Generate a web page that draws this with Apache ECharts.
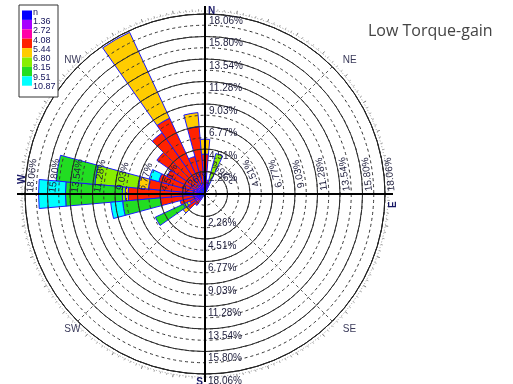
<!DOCTYPE html>
<html><head><meta charset="utf-8">
<script src="https://cdn.jsdelivr.net/npm/echarts@6/dist/echarts.min.js"></script>
<style>html,body{margin:0;padding:0;background:#fff}#c{width:513px;height:384px}</style>
</head><body><div id="c"></div>
<script>
// ---- data ----
const directions = ['0','10','20','30','40','50','60','70','80','90','100','110','120','130','140','150','160','170','180','190','200','210','220','230','240','250','260','270','280','290','300','310','320','330','340','350'];
const binLabels = ['n','1.36','2.72','4.08','5.44','6.80','8.15','9.51','10.87'];
const binColors = ['#0000ff','#a800ff','#ff00a8','#ff2200','#ffcc00','#88ee00','#22dd22','#00ffff'];
const ringLabels = ['2.26%','4.51%','6.77%','9.03%','11.28%','13.54%','15.80%','18.06%'];
const ringMax = 18.06;
// percent per direction for each speed bin (index = direction/10)
const bin1 = [0.4,0.4,0.3,0,0,0,0,0,0,0,0,0,0,0,0,0,0,0,0,0,0,0,0.3,0.4,0.4,0.4,0.4,0.4,0.4,0.4,0.3,0.3,0.3,0.3,0.3,0.3];
const bin2 = [0.5,0.6,0.3,0,0,0,0,0,0,0,0,0,0,0,0,0,0,0,0,0,0,0,0.3,0.4,0.4,0.4,0.4,0.4,0.4,0.4,0.3,0.3,0.3,0.3,0.3,0.3];
const bin3 = [0.6,0.4,0.2,0,0,0,0,0,0,0,0,0,0,0,0,0,0,0,0,0,0,0,0.2,0.3,0.3,0.3,0.4,0.4,0.4,0.4,0.3,0.3,0.4,0.4,0.3,0.4];
const bin4 = [2.5,0,0.2,0,0,0,0,0,0,0,0,0,0,0,0,0,0,0,0,0,0,0,0.6,1.0,0.6,1.5,3.3,6.5,4.5,3.6,3.3,5.0,6.5,7.4,3.0,5.8];
const bin5 = [1.5,0,0.2,0,0,0,0,0,0,0,0,0,0,0,0,0,0,0,0,0,0,0,0,0.6,0.3,0,0,0.3,1.0,0,0,0,0,9.5,0,1.4];
const bin6 = [0,0,3.0,0,0,0,0,0,0,0,0,0,0,0,0,0,0,0,0,0,0,0,0,0,0.4,0,0,0.3,4.4,0,0,0,0,0,0,0];
const bin7 = [0,0,0,0,0,0,0,0,0,0,0,0,0,0,0,0,0,0,0,0,0,0,0,0,3.1,0,3.8,5.7,3.9,0,0,0,0,0,0,0];
const bin8 = [0,0,0,0,0,0,0,0,0,0,0,0,0,0,0,0,0,0,0,0,0,0,0,0,0,0,1.2,2.7,0,1.0,0,0,0,0,0,0];
const bins = [bin1,bin2,bin3,bin4,bin5,bin6,bin7,bin8];

const CX = 205, CY = 194, R = 180;
const chart = echarts.init(document.getElementById('c'), null, {renderer:'canvas'});
const hid = {axisLine:{show:false},axisTick:{show:false},axisLabel:{show:false},splitLine:{show:false}};

const series = bins.map((b,i)=>({
  type:'bar', coordinateSystem:'polar', polarIndex:0, stack:'rose', name:binLabels[i+1],
  data:b.map(v=>v>0?v:null), barCategoryGap:'0%',
  itemStyle:{color:binColors[i], borderColor:'#1a1aff', borderWidth:1}, z:2, silent:true
}));

const g = [];
const scale = R/ringMax;
const font = '10px "Liberation Sans", Arial, sans-serif';
const txtCol = '#1e1e3c';
ringLabels.forEach((t,k)=>{
  const r = (ringMax/ringLabels.length)*(k+1)*scale;
  g.push({type:'text', x:CX+4, y:CY-r+2, style:{text:t, font, fill:txtCol, textAlign:'left', textVerticalAlign:'top'}, z:20});
  g.push({type:'text', x:CX+3, y:CY+r+2, style:{text:t, font, fill:txtCol, textAlign:'left', textVerticalAlign:'top'}, z:20});
  const s = 4 + 15;
  [[0,-1,1],[Math.PI,1,-1]].forEach(([th0,sgn,outward])=>{
    const th = th0 + sgn*s/r;
    const rx = sgn*(-Math.sin(th)), ry = sgn*Math.cos(th);
    const dx = outward*Math.cos(th), dy = outward*Math.sin(th);
    const px = CX + r*Math.cos(th) + dx*6, py = CY + r*Math.sin(th) + dy*6;
    g.push({type:'text', x:px, y:py, rotation:Math.atan2(-ry,rx),
      style:{text:t, font, fill:txtCol, textAlign:'center', textVerticalAlign:'middle'}, z:20});
  });
});
const cfont = 'bold 10px "Liberation Sans", Arial, sans-serif';
const ccol = '#1a1a66';
g.push({type:'text', x:CX+3, y:CY-R-8, style:{text:'N', font:cfont, fill:ccol, textAlign:'left', textVerticalAlign:'top'}, z:20});
g.push({type:'text', x:CX-2, y:CY+R+3, style:{text:'S', font:cfont, fill:ccol, textAlign:'right', textVerticalAlign:'top'}, z:20});
g.push({type:'text', x:CX+R+3, y:CY+14, rotation:Math.PI/2, style:{text:'E', font:cfont, fill:ccol, textAlign:'left', textVerticalAlign:'top'}, z:20});
g.push({type:'text', x:CX-R-8, y:CY-10, rotation:Math.PI/2, style:{text:'W', font:cfont, fill:ccol, textAlign:'left', textVerticalAlign:'top'}, z:20});
const ifont = '10px "Liberation Sans", Arial, sans-serif';
const icol = '#3a3a5a';
const d = 192*Math.SQRT1_2;
[['NE',1,-1,2],['SE',1,1,-1],['SW',-1,1,-1],['NW',-1,-1,2]].forEach(([t,sx,sy,oy])=>{
  g.push({type:'text', x:CX+sx*d+(sx>0?2:-5), y:CY+sy*d+oy, style:{text:t, font:ifont, fill:icol, textAlign:'left', textVerticalAlign:'middle'}, z:20});
});
g.push({type:'rect', shape:{x:19,y:5,width:39,height:92}, style:{fill:'#fff', stroke:'#333', lineWidth:1}, z:20});
binColors.forEach((c,i)=>{
  g.push({type:'rect', shape:{x:22,y:10.5+9.4*i,width:10,height:9.4}, style:{fill:c}, z:21});
});
binLabels.forEach((t,i)=>{
  g.push({type:'text', x:33, y:12.5+9.25*i, style:{text:t, font:'9px "Liberation Sans", Arial, sans-serif', fill:'#14145a', textAlign:'left', textVerticalAlign:'middle'}, z:21});
});
g.push({type:'text', x:368, y:31, style:{text:'Low Torque-gain', font:'16px "Open Sans", sans-serif', fill:'#444', textAlign:'left', textVerticalAlign:'middle'}, z:21});

const polarBase = {center:[CX,CY], radius:R};
chart.setOption({
  animation:false,
  backgroundColor:'#fff',
  polar:[polarBase, polarBase, polarBase, {center:[CX,CY], radius:R+8}, {center:[CX,CY], radius:R+3}],
  angleAxis:[
    Object.assign({type:'category', data:directions, polarIndex:0, startAngle:95, boundaryGap:true}, hid),
    Object.assign({}, hid, {type:'value', min:0, max:360, interval:45, polarIndex:1, startAngle:90, z:6,
      axisLine:{show:true, lineStyle:{color:'#222', width:1}},
      splitLine:{show:true, lineStyle:{color:'#555', width:1, type:[3,3]}}}),
    Object.assign({}, hid, {type:'value', min:0, max:360, interval:90, polarIndex:2, startAngle:90}),
    Object.assign({}, hid, {type:'value', min:0, max:360, interval:90, polarIndex:3, startAngle:90, z:7,
      splitLine:{show:true, lineStyle:{color:'#000', width:2}}}),
    Object.assign({}, hid, {type:'value', min:0, max:360, interval:10, polarIndex:4, startAngle:90, z:6,
      axisLine:{show:true, lineStyle:{color:'#999', width:1, type:[1,2]}},
      axisTick:{show:true, inside:false, length:3, lineStyle:{color:'#777'}},
      minorTick:{show:true, splitNumber:5, length:2, lineStyle:{color:'#aaa'}}})
  ],
  radiusAxis:[
    Object.assign({type:'value', min:0, max:ringMax, polarIndex:0}, hid),
    Object.assign({}, hid, {type:'value', min:0, max:ringMax, interval:ringMax/8, polarIndex:1, z:6,
      splitLine:{show:true, lineStyle:{color:'#222', width:1}}}),
    Object.assign({}, hid, {type:'value', min:0, max:ringMax, interval:ringMax/16, polarIndex:2, z:6,
      splitLine:{show:true, lineStyle:{color:'#333', width:1, type:[3,3]}}}),
    Object.assign({type:'value', min:0, max:ringMax, polarIndex:3}, hid),
    Object.assign({type:'value', min:0, max:ringMax, polarIndex:4}, hid)
  ],
  series,
  graphic:g
});
</script></body></html>
